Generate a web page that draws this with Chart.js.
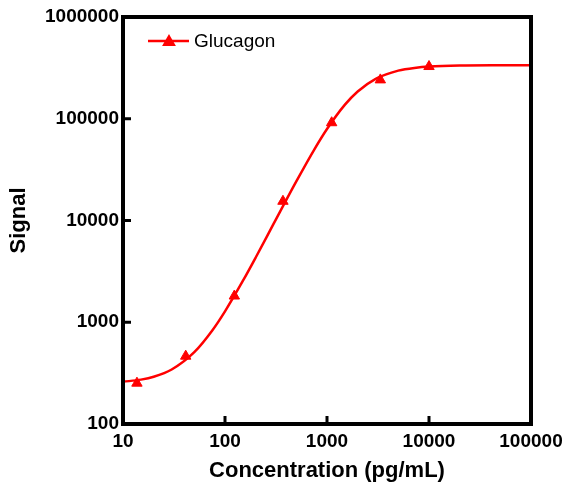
<!DOCTYPE html>
<html>
<head>
<meta charset="utf-8">
<script src="https://cdn.jsdelivr.net/npm/chart.js@4/dist/chart.umd.min.js"></script>
<style>
  html, body { margin: 0; padding: 0; background: #fff; }
</style>
</head>
<body>
<canvas id="cvs" width="566" height="487"></canvas>
<script>
// measured standards (triangles)
const concentrations = [13.7, 41.2, 123.5, 370, 1111, 3333, 10000];
const signals = [252, 464, 1810, 15450, 91400, 241000, 326000];

// fitted curve, values
const fitX = [10, 15, 20, 30, 50, 75, 100, 150, 200, 300, 500, 750, 1000, 1500, 2000, 3000, 5000, 7500, 10000, 20000, 50000, 100000];
const fitY = [260, 273, 291, 343, 508, 830, 1280, 2560, 4330, 9300, 24200, 49800, 79300, 137600, 185500, 246900, 297200, 317700, 325400, 333300, 335600, 335900];

const xTicks = [10, 100, 1000, 10000, 100000];
const yTicks = [100, 1000, 10000, 100000, 1000000];

const RED = '#ff0000';
const FONT = '"Liberation Sans", Arial, sans-serif';

const framePlugin = {
    id: 'frame',
    afterDatasetsDraw(chart) {
        const ctx = chart.ctx;
        const a = chart.chartArea;
        const xs = chart.scales.x, ys = chart.scales.y;
        ctx.save();
        ctx.strokeStyle = '#000';
        ctx.lineWidth = 4;
        ctx.strokeRect(a.left, a.top, a.right - a.left, a.bottom - a.top);
        // inward tick marks
        ctx.lineWidth = 3;
        ctx.beginPath();
        xs.ticks.forEach(t => {
            const px = xs.getPixelForValue(t.value);
            ctx.moveTo(px, a.bottom);
            ctx.lineTo(px, a.bottom - 8);
        });
        ys.ticks.forEach(t => {
            const py = ys.getPixelForValue(t.value);
            ctx.moveTo(a.left, py);
            ctx.lineTo(a.left + 8, py);
        });
        ctx.stroke();

        // legend: line + triangle + label
        const lx = a.left + 25, ly = a.top + 24;
        ctx.strokeStyle = RED;
        ctx.fillStyle = RED;
        ctx.lineWidth = 2.5;
        ctx.beginPath();
        ctx.moveTo(lx, ly);
        ctx.lineTo(lx + 41, ly);
        ctx.stroke();
        Chart.helpers.drawPoint(ctx, { pointStyle: 'triangle', radius: 5.5, borderWidth: 1 }, lx + 21, ly + 1);
        ctx.fillStyle = '#000';
        ctx.font = '19px ' + FONT;
        ctx.textBaseline = 'middle';
        ctx.textAlign = 'left';
        ctx.fillText(chart.data.datasets[1].label, lx + 46, ly + 1);
        ctx.restore();
    }
};

new Chart(document.getElementById('cvs'), {
    type: 'line',
    data: {
        datasets: [
            {
                label: 'fit',
                data: fitX.map((x, i) => ({ x: x, y: fitY[i] })),
                borderColor: RED,
                borderWidth: 2.5,
                pointRadius: 0,
                cubicInterpolationMode: 'monotone',
                fill: false
            },
            {
                label: 'Glucagon',
                data: concentrations.map((x, i) => ({ x: x, y: signals[i] })),
                showLine: false,
                pointStyle: 'triangle',
                pointRadius: 6,
                pointBackgroundColor: RED,
                pointBorderColor: RED,
                pointBorderWidth: 1
            }
        ]
    },
    options: {
        responsive: false,
        animation: false,
        layout: { padding: { top: 17, right: 35, left: 0, bottom: 0 } },
        plugins: {
            legend: { display: false },
            tooltip: { enabled: false }
        },
        scales: {
            x: {
                type: 'logarithmic',
                min: 10,
                max: 100000,
                afterBuildTicks: s => { s.ticks = xTicks.map(v => ({ value: v })); },
                afterFit: s => { s.height = 63; s.paddingLeft = 0; s.paddingRight = 0; },
                grid: { display: false, drawTicks: false },
                border: { display: false },
                ticks: {
                    color: '#000',
                    padding: 6,
                    maxRotation: 0,
                    font: { family: FONT, size: 19, weight: 'bold' },
                    callback: v => String(v)
                },
                title: {
                    display: true,
                    text: 'Concentration (pg/mL)',
                    color: '#000',
                    padding: { top: 3, bottom: 3 },
                    font: { family: FONT, size: 22, weight: 'bold' }
                }
            },
            y: {
                type: 'logarithmic',
                min: 100,
                max: 1000000,
                afterBuildTicks: s => { s.ticks = yTicks.map(v => ({ value: v })); },
                afterFit: s => { s.width = 123; s.paddingTop = 0; s.paddingBottom = 0; },
                grid: { display: false, drawTicks: false },
                border: { display: false },
                ticks: {
                    color: '#000',
                    padding: 4,
                    font: { family: FONT, size: 19, weight: 'bold' },
                    callback: v => String(v)
                },
                title: {
                    display: true,
                    text: 'Signal',
                    color: '#000',
                    padding: { top: 6, bottom: 6 },
                    font: { family: FONT, size: 22, weight: 'bold' }
                }
            }
        }
    },
    plugins: [framePlugin]
});
</script>
</body>
</html>
